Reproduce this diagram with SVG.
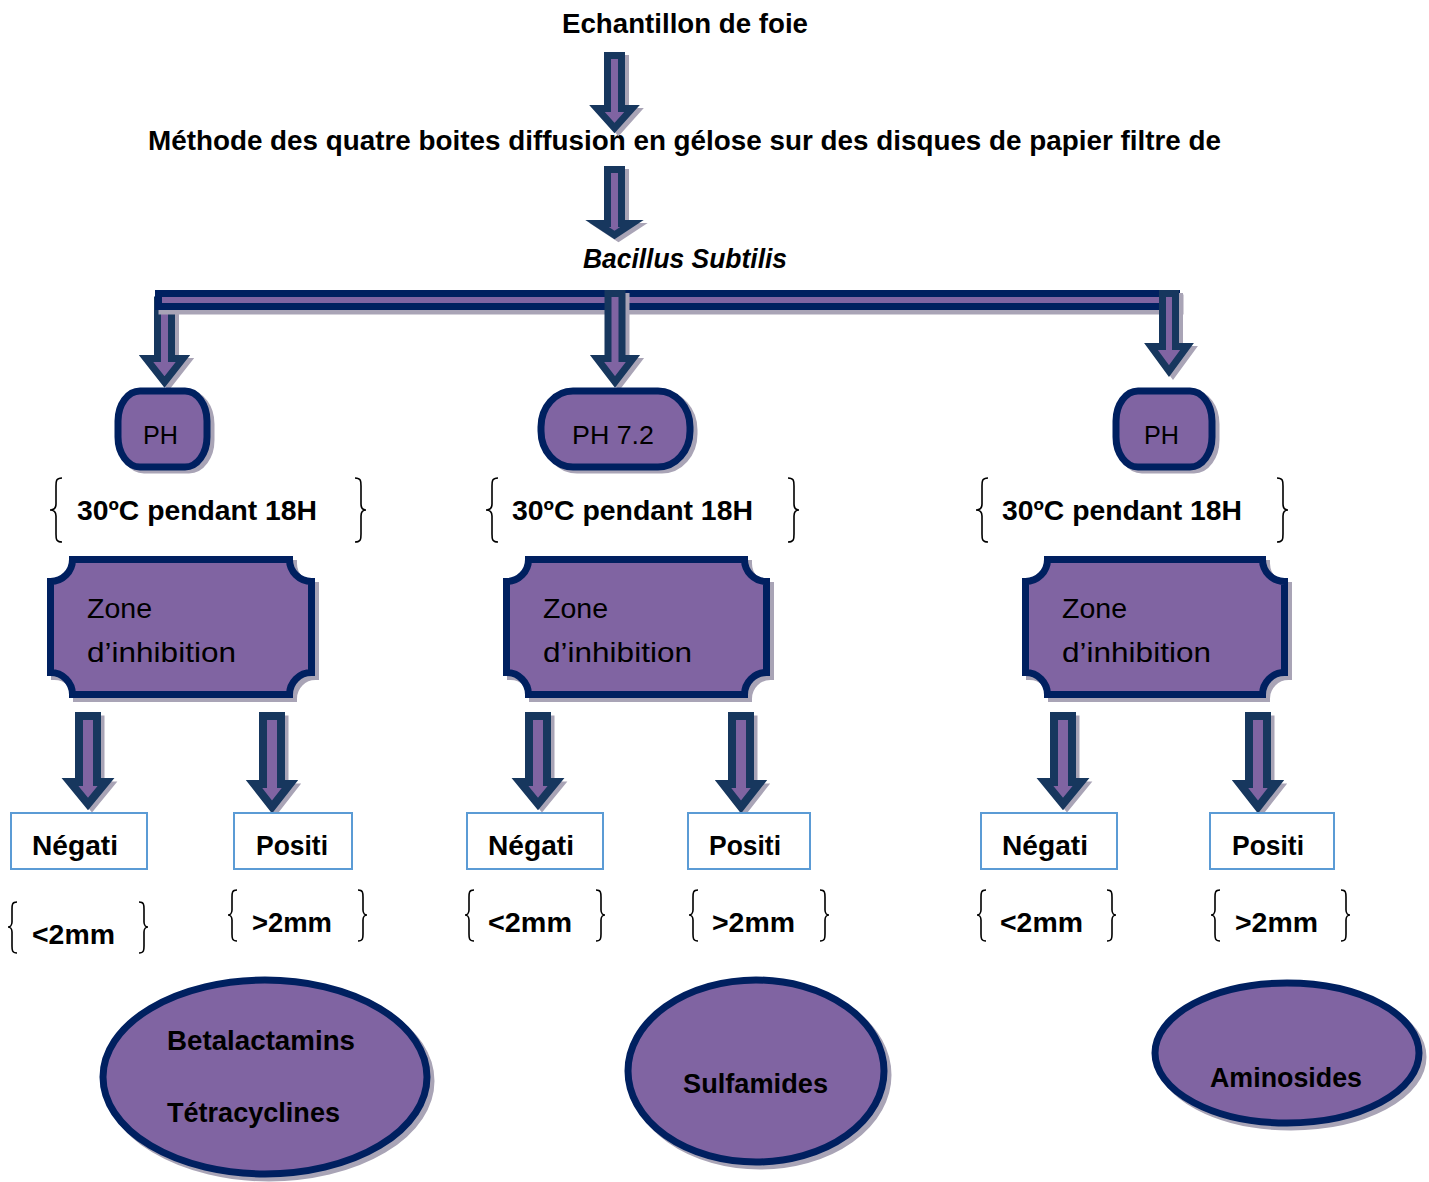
<svg xmlns="http://www.w3.org/2000/svg" width="1429" height="1182" viewBox="0 0 1429 1182">
<style>
.t{font-family:"Liberation Sans",Arial,sans-serif;fill:#000}
.b{font-weight:bold}
.shape{fill:#8064A2;stroke:#002060;stroke-width:7}
.shadow{fill:#A9A4B6;stroke:#A9A4B6;stroke-width:7}
.arrow{fill:#8064A2;stroke:#17375E;stroke-width:7;stroke-linejoin:miter}
.arrow2{fill:#8064A2;stroke:#17375E;stroke-width:8;stroke-linejoin:miter}
.ashadow{fill:#A9A4B6;stroke:#A9A4B6;stroke-width:7}
.box{fill:#fff;stroke:#5B9BD5;stroke-width:2}
.brace{fill:none;stroke:#000;stroke-width:1.6}
</style>
<rect width="1429" height="1182" fill="#fff"/>

<g id="title">
<text class="t b" x="562" y="33" font-size="27" textLength="246" lengthAdjust="spacingAndGlyphs">Echantillon de foie</text>
</g>
<g id="methode">
<text class="t b" x="148" y="150" font-size="27" textLength="1073" lengthAdjust="spacingAndGlyphs">Méthode des quatre boites diffusion en gélose sur des disques de papier filtre de</text>
</g>
<g id="bacillus">
<text class="t b" x="583" y="268" font-size="27" font-style="italic" textLength="204" lengthAdjust="spacingAndGlyphs">Bacillus Subtilis</text>
</g>

<g id="connectors">
<path class="ashadow" transform="translate(4,3)" d="M607.5,55.5H621.5V108.5H632L614.5,128L597,108.5H607.5Z"/>
<path class="arrow" d="M607.5,55.5H621.5V108.5H632L614.5,128L597,108.5H607.5Z"/>
<path class="ashadow" transform="translate(4,3)" d="M607.5,169.5H621.5V223.5H632L614.5,235L597,223.5H607.5Z"/>
<path class="arrow" d="M607.5,169.5H621.5V223.5H632L614.5,235L597,223.5H607.5Z"/>
<path class="ashadow" transform="translate(4,3)" d="M157.5,300H171.5V358.5H183L164.5,382L146,358.5H157.5Z"/>
<path class="arrow" d="M157.5,300H171.5V358.5H183L164.5,382L146,358.5H157.5Z"/>
<rect class="shadow" x="162" y="298" width="1018" height="13"/>
<rect class="shape" x="158.5" y="293.5" width="1018" height="13"/>
<path class="ashadow" transform="translate(4,3)" d="M608,293.5H622V358.5H633L615,382L597,358.5H608Z"/>
<path class="arrow" d="M608,293.5H622V358.5H633L615,382L597,358.5H608Z"/>
<path class="ashadow" transform="translate(4,3)" d="M1162.5,293.5H1175.5V346.5H1187L1169,371L1151,346.5H1162.5Z"/>
<path class="arrow" d="M1162.5,293.5H1175.5V346.5H1187L1169,371L1151,346.5H1162.5Z"/>

<path class="ashadow" transform="translate(4,3)" d="M79,716H97V782H106L88,804L70,782H79Z"/>
<path class="arrow2" d="M79,716H97V782H106L88,804L70,782H79Z"/>
<path class="ashadow" transform="translate(4,3)" d="M263,716H281V784H290L272,807L254,784H263Z"/>
<path class="arrow2" d="M263,716H281V784H290L272,807L254,784H263Z"/>
<path class="ashadow" transform="translate(4,3)" d="M529,716H547V782H556L538,804L520,782H529Z"/>
<path class="arrow2" d="M529,716H547V782H556L538,804L520,782H529Z"/>
<path class="ashadow" transform="translate(4,3)" d="M732,716H750V784H759L741,807L723,784H732Z"/>
<path class="arrow2" d="M732,716H750V784H759L741,807L723,784H732Z"/>
<path class="ashadow" transform="translate(4,3)" d="M1054,716H1072V782H1081L1063,804L1045,782H1054Z"/>
<path class="arrow2" d="M1054,716H1072V782H1081L1063,804L1045,782H1054Z"/>
<path class="ashadow" transform="translate(4,3)" d="M1249,716H1267V784H1276L1258,807L1240,784H1249Z"/>
<path class="arrow2" d="M1249,716H1267V784H1276L1258,807L1240,784H1249Z"/>
</g>

<g id="ph-left">
<rect class="shadow" x="122" y="394" width="89" height="76" rx="22" ry="30" stroke-width="6"/>
<rect class="shape" x="118" y="391" width="89" height="76" rx="22" ry="30" stroke-width="6"/>
<text class="t" x="143" y="444" font-size="26" textLength="35" lengthAdjust="spacingAndGlyphs">PH</text>
</g>
<g id="ph-mid">
<rect class="shadow" x="545" y="394" width="149" height="76" rx="32" ry="36" stroke-width="6"/>
<rect class="shape" x="541" y="391" width="149" height="76" rx="32" ry="36" stroke-width="6"/>
<text class="t" x="572" y="444" font-size="26" textLength="82" lengthAdjust="spacingAndGlyphs">PH 7.2</text>
</g>
<g id="ph-right">
<rect class="shadow" x="1120" y="394" width="96" height="76" rx="22" ry="30" stroke-width="6"/>
<rect class="shape" x="1116" y="391" width="96" height="76" rx="22" ry="30" stroke-width="6"/>
<text class="t" x="1144" y="444" font-size="26" textLength="35" lengthAdjust="spacingAndGlyphs">PH</text>
</g>

<g id="temp-left">
<path class="brace" d="M62,478C56,478 56,481 56,486V504C56,508 54,510 50,510C54,510 56,512 56,516V534C56,539 56,542 62,542"/>
<path class="brace" d="M355,478C361,478 361,481 361,486V504C361,508 363,510 366,510C363,510 361,512 361,516V534C361,539 361,542 355,542"/>
<text class="t b" x="77" y="520" font-size="27" textLength="240" lengthAdjust="spacingAndGlyphs">30ºC pendant 18H</text>
</g>
<g id="temp-mid">
<path class="brace" d="M498,478C492,478 492,481 492,486V504C492,508 490,510 486,510C490,510 492,512 492,516V534C492,539 492,542 498,542"/>
<path class="brace" d="M788,478C794,478 794,481 794,486V504C794,508 796,510 799,510C796,510 794,512 794,516V534C794,539 794,542 788,542"/>
<text class="t b" x="512" y="520" font-size="27" textLength="241" lengthAdjust="spacingAndGlyphs">30ºC pendant 18H</text>
</g>
<g id="temp-right">
<path class="brace" d="M988,478C982,478 982,481 982,486V504C982,508 980,510 976,510C980,510 982,512 982,516V534C982,539 982,542 988,542"/>
<path class="brace" d="M1277,478C1283,478 1283,481 1283,486V504C1283,508 1285,510 1288,510C1285,510 1283,512 1283,516V534C1283,539 1283,542 1277,542"/>
<text class="t b" x="1002" y="520" font-size="27" textLength="240" lengthAdjust="spacingAndGlyphs">30ºC pendant 18H</text>
</g>

<g id="zone-left">
<path class="shadow" transform="translate(4,4)" d="M72.5,559.5H289.5A22,22 0 0 0 311.5,581.5V672.5A22,22 0 0 0 289.5,694.5H72.5A22,22 0 0 0 50.5,672.5V581.5A22,22 0 0 0 72.5,559.5Z"/>
<path class="shape" d="M72.5,559.5H289.5A22,22 0 0 0 311.5,581.5V672.5A22,22 0 0 0 289.5,694.5H72.5A22,22 0 0 0 50.5,672.5V581.5A22,22 0 0 0 72.5,559.5Z"/>
<text class="t" x="87" y="618" font-size="28" textLength="65" lengthAdjust="spacingAndGlyphs">Zone</text>
<text class="t" x="87" y="662" font-size="28" textLength="149" lengthAdjust="spacingAndGlyphs">d’inhibition</text>
</g>
<g id="zone-mid">
<path class="shadow" transform="translate(4,4)" d="M528.5,559.5H744.5A22,22 0 0 0 766.5,581.5V672.5A22,22 0 0 0 744.5,694.5H528.5A22,22 0 0 0 506.5,672.5V581.5A22,22 0 0 0 528.5,559.5Z"/>
<path class="shape" d="M528.5,559.5H744.5A22,22 0 0 0 766.5,581.5V672.5A22,22 0 0 0 744.5,694.5H528.5A22,22 0 0 0 506.5,672.5V581.5A22,22 0 0 0 528.5,559.5Z"/>
<text class="t" x="543" y="618" font-size="28" textLength="65" lengthAdjust="spacingAndGlyphs">Zone</text>
<text class="t" x="543" y="662" font-size="28" textLength="149" lengthAdjust="spacingAndGlyphs">d’inhibition</text>
</g>
<g id="zone-right">
<path class="shadow" transform="translate(4,4)" d="M1047.5,559.5H1262.5A22,22 0 0 0 1284.5,581.5V672.5A22,22 0 0 0 1262.5,694.5H1047.5A22,22 0 0 0 1025.5,672.5V581.5A22,22 0 0 0 1047.5,559.5Z"/>
<path class="shape" d="M1047.5,559.5H1262.5A22,22 0 0 0 1284.5,581.5V672.5A22,22 0 0 0 1262.5,694.5H1047.5A22,22 0 0 0 1025.5,672.5V581.5A22,22 0 0 0 1047.5,559.5Z"/>
<text class="t" x="1062" y="618" font-size="28" textLength="65" lengthAdjust="spacingAndGlyphs">Zone</text>
<text class="t" x="1062" y="662" font-size="28" textLength="149" lengthAdjust="spacingAndGlyphs">d’inhibition</text>
</g>

<g id="neg-left"><rect class="box" x="11" y="813" width="136" height="56"/><text class="t b" x="32" y="855" font-size="28" textLength="86" lengthAdjust="spacingAndGlyphs">Négati</text></g>
<g id="pos-left"><rect class="box" x="234" y="813" width="118" height="56"/><text class="t b" x="256" y="855" font-size="28" textLength="72" lengthAdjust="spacingAndGlyphs">Positi</text></g>
<g id="neg-mid"><rect class="box" x="467" y="813" width="136" height="56"/><text class="t b" x="488" y="855" font-size="28" textLength="86" lengthAdjust="spacingAndGlyphs">Négati</text></g>
<g id="pos-mid"><rect class="box" x="688" y="813" width="122" height="56"/><text class="t b" x="709" y="855" font-size="28" textLength="72" lengthAdjust="spacingAndGlyphs">Positi</text></g>
<g id="neg-right"><rect class="box" x="981" y="813" width="136" height="56"/><text class="t b" x="1002" y="855" font-size="28" textLength="86" lengthAdjust="spacingAndGlyphs">Négati</text></g>
<g id="pos-right"><rect class="box" x="1210" y="813" width="124" height="56"/><text class="t b" x="1232" y="855" font-size="28" textLength="72" lengthAdjust="spacingAndGlyphs">Positi</text></g>

<g id="size-left-neg">
<path class="brace" d="M17,902C12,902 12,905 12,909V922C12,925 10,927 8,927C10,927 12,929 12,932V946C12,950 12,953 17,953"/>
<path class="brace" d="M139,902C144,902 144,905 144,909V922C144,925 146,927 148,927C146,927 144,929 144,932V946C144,950 144,953 139,953"/>
<text class="t b" x="32" y="944" font-size="27" textLength="83" lengthAdjust="spacingAndGlyphs">&lt;2mm</text>
</g>
<g id="size-left-pos">
<path class="brace" d="M237,890C232,890 232,893 232,897V910C232,913 230,915 228,915C230,915 232,917 232,920V934C232,938 232,941 237,941"/>
<path class="brace" d="M358,890C363,890 363,893 363,897V910C363,913 365,915 367,915C365,915 363,917 363,920V934C363,938 363,941 358,941"/>
<text class="t b" x="252" y="932" font-size="27" textLength="80" lengthAdjust="spacingAndGlyphs">&gt;2mm</text>
</g>
<g id="size-mid-neg">
<path class="brace" d="M474,890C469,890 469,893 469,897V910C469,913 467,915 465,915C467,915 469,917 469,920V934C469,938 469,941 474,941"/>
<path class="brace" d="M596,890C601,890 601,893 601,897V910C601,913 603,915 605,915C603,915 601,917 601,920V934C601,938 601,941 596,941"/>
<text class="t b" x="488" y="932" font-size="27" textLength="84" lengthAdjust="spacingAndGlyphs">&lt;2mm</text>
</g>
<g id="size-mid-pos">
<path class="brace" d="M698,890C693,890 693,893 693,897V910C693,913 691,915 689,915C691,915 693,917 693,920V934C693,938 693,941 698,941"/>
<path class="brace" d="M820,890C825,890 825,893 825,897V910C825,913 827,915 829,915C827,915 825,917 825,920V934C825,938 825,941 820,941"/>
<text class="t b" x="712" y="932" font-size="27" textLength="83" lengthAdjust="spacingAndGlyphs">&gt;2mm</text>
</g>
<g id="size-right-neg">
<path class="brace" d="M986,890C981,890 981,893 981,897V910C981,913 979,915 977,915C979,915 981,917 981,920V934C981,938 981,941 986,941"/>
<path class="brace" d="M1107,890C1112,890 1112,893 1112,897V910C1112,913 1114,915 1116,915C1114,915 1112,917 1112,920V934C1112,938 1112,941 1107,941"/>
<text class="t b" x="1000" y="932" font-size="27" textLength="83" lengthAdjust="spacingAndGlyphs">&lt;2mm</text>
</g>
<g id="size-right-pos">
<path class="brace" d="M1220,890C1215,890 1215,893 1215,897V910C1215,913 1213,915 1211,915C1213,915 1215,917 1215,920V934C1215,938 1215,941 1220,941"/>
<path class="brace" d="M1341,890C1346,890 1346,893 1346,897V910C1346,913 1348,915 1350,915C1348,915 1346,917 1346,920V934C1346,938 1346,941 1341,941"/>
<text class="t b" x="1235" y="932" font-size="27" textLength="83" lengthAdjust="spacingAndGlyphs">&gt;2mm</text>
</g>

<g id="res-left">
<ellipse class="shadow" cx="269" cy="1081" rx="162" ry="97"/>
<ellipse class="shape" cx="265" cy="1077" rx="162" ry="97"/>
<text class="t b" x="167" y="1050" font-size="27" textLength="188" lengthAdjust="spacingAndGlyphs">Betalactamins</text>
<text class="t b" x="167" y="1122" font-size="27" textLength="173" lengthAdjust="spacingAndGlyphs">Tétracyclines</text>
</g>
<g id="res-mid">
<ellipse class="shadow" cx="760" cy="1075" rx="128" ry="91"/>
<ellipse class="shape" cx="756" cy="1071" rx="128" ry="91"/>
<text class="t b" x="683" y="1093" font-size="27" textLength="145" lengthAdjust="spacingAndGlyphs">Sulfamides</text>
</g>
<g id="res-right">
<ellipse class="shadow" cx="1291" cy="1057" rx="132" ry="70"/>
<ellipse class="shape" cx="1287" cy="1053" rx="132" ry="70"/>
<text class="t b" x="1210" y="1087" font-size="27" textLength="152" lengthAdjust="spacingAndGlyphs">Aminosides</text>
</g>
</svg>
